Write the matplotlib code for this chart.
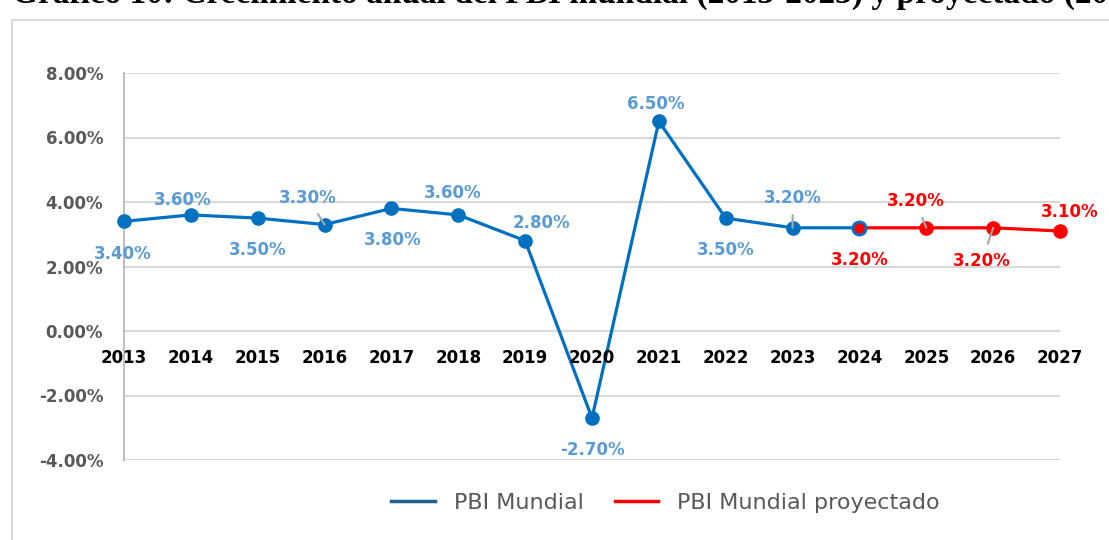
import matplotlib.pyplot as plt
from matplotlib.patches import Rectangle

years = [2013, 2014, 2015, 2016, 2017, 2018, 2019, 2020, 2021, 2022, 2023, 2024]
pbi = [3.4, 3.6, 3.5, 3.3, 3.8, 3.6, 2.8, -2.7, 6.5, 3.5, 3.2, 3.2]
proj_years = [2024, 2025, 2026, 2027]
proj = [3.2, 3.2, 3.2, 3.1]

# label offsets in pixels (dx, dy) and whether a leader line is drawn
blue_off = [(-1, -33), (-8, 15), (0, -32), (-17, 27), (1, -32), (-6, 22),
            (16, 18), (0, -32), (-3, 17), (0, -32), (0, 30)]
blue_lead = [False, False, False, True, False, False, False, False, False, False, True]
red_off = [(0, -32), (-11, 27), (-11, -33), (10, 19)]
red_lead = [False, True, True, False]

blue = '#0070C0'
blue_lbl = '#5B9BD5'
red = '#FF0000'
grey = '#595959'

fig = plt.figure(figsize=(11.09, 5.4), dpi=100)
ax = fig.add_axes([124/1109, 80/540, 936/1109, 387/540])

ax.plot(years, pbi, color=blue, lw=2.3, marker='o', ms=9.5, zorder=3, clip_on=False)
ax.plot(proj_years, proj, color=red, lw=2.3, marker='o', ms=9.5, zorder=4,
        clip_on=False, markevery=[1, 2, 3])
ax.plot(proj_years[:1], proj[:1], 'o', color=red, mec=blue, mew=2, ms=9.5, zorder=5)

ax.set_xlim(2013, 2027)
ax.set_ylim(-4, 8)
ax.set_yticks([-4, -2, 0, 2, 4, 6, 8])
ax.set_yticklabels([f'{v:.2f}%' for v in [-4, -2, 0, 2, 4, 6, 8]])
ax.tick_params(axis='y', length=0, pad=15, labelsize=12, labelcolor=grey)
for t in ax.get_yticklabels():
    t.set_fontweight('bold')
ax.grid(axis='y', color='#D9D9D9', lw=1.5)
ax.set_axisbelow(True)
for s in ['top', 'right', 'bottom']:
    ax.spines[s].set_visible(False)
ax.spines['left'].set_color('#BFBFBF')
ax.spines['left'].set_linewidth(1.5)

# category labels sit under the zero line
ax.set_xticks([])
for y in years + proj_years[1:]:
    ax.annotate(str(y), (y, 0), xytext=(0, -27), textcoords='offset pixels',
                ha='center', va='center', fontsize=12, fontweight='bold', color='black')

def label(x, v, off, lead, col):
    ap = dict(arrowstyle='-', color='#A6A6A6', lw=1.5, shrinkA=4, shrinkB=0) if lead else None
    ax.annotate(f'{v:.2f}%', (x, v), xytext=off, textcoords='offset pixels',
                ha='center', va='center', fontsize=12, fontweight='bold', color=col,
                arrowprops=ap, zorder=6)

for x, v, o, l in zip(years[:-1], pbi[:-1], blue_off, blue_lead):
    label(x, v, o, l, blue_lbl)
for x, v, o, l in zip(proj_years, proj, red_off, red_lead):
    label(x, v, o, l, red)

h1, = ax.plot([], [], color='#1F5F8B', lw=2.5)
h2, = ax.plot([], [], color=red, lw=2.5)
fig.legend([h1, h2], ['PBI Mundial', 'PBI Mundial proyectado'], loc='center',
           bbox_to_anchor=(0.6, 1 - 503/540), ncol=2, frameon=False, fontsize=16,
           labelcolor=grey, handlelength=1.95, handletextpad=0.85, columnspacing=1.4)

fig.patches.append(Rectangle((12/1109, -0.05), 1.1, 1 - 20/540 + 0.05,
                             transform=fig.transFigure, fill=False,
                             ec='#D9D9D9', lw=1.5))
fig.text(12/1109, 1 - 3/540,
         'Gráfico 10: Crecimiento anual del PBI mundial (2013-2023) y proyectado (2024-2027)',
         family='Liberation Serif', fontweight='bold', fontsize=24, va='baseline', ha='left')

plt.savefig('out.png', dpi=100)
